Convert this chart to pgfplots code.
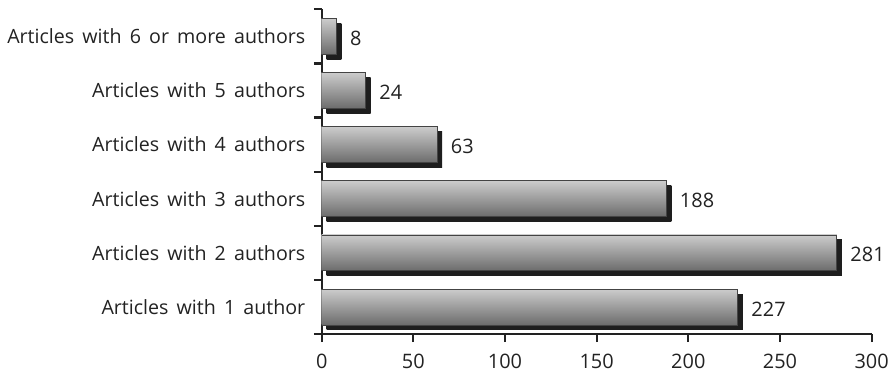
\documentclass[border=0pt]{standalone}
\usepackage{pgfplots}
\pgfplotsset{compat=1.18}
\usepackage{fontspec}
\setmainfont{Open Sans}[WordSpace=1.6]
\usetikzlibrary{shadows}
\definecolor{axc}{HTML}{222222}
\definecolor{barTop}{HTML}{CCCCCC}
\definecolor{barBot}{HTML}{6C6C6C}
\definecolor{barEdge}{HTML}{444444}
\definecolor{shad}{HTML}{1E1E1E}
\pgfplotsset{gbar/.style={draw=barEdge, line width=0.8pt, top color=barTop, bottom color=barBot, bar shift=0pt,
  drop shadow={shadow xshift=5pt, shadow yshift=-5pt, opacity=1, fill=shad, top color=shad, bottom color=shad, draw=none}}}
\begin{document}
\begin{tikzpicture}
\begin{axis}[
  xbar,
  scale only axis,
  width=552pt, height=326pt,
  xmin=0, xmax=300, ymin=-0.5, ymax=5.5,
  axis x line*=bottom, axis y line*=left,
  axis line style={axc, line width=2.2pt, -},
  tick align=outside,
  major tick length=8pt,
  tick style={axc, line width=2.2pt},
  xtick={0,50,...,300},
  ytick={-0.5,0.5,...,5.5},
  yticklabels={},
  extra y ticks={0,1,2,3,4,5},
  extra y tick labels={Articles with 1 author, Articles with 2 authors, Articles with 3 authors, Articles with 4 authors, Articles with 5 authors, Articles with 6 or more authors},
  extra y tick style={major tick length=0pt, tick style={draw=none}},
  /pgf/number format/assume math mode=true,
  tick label style={font=\fontsize{19.7}{22}\selectfont, text=axc},
  yticklabel style={xshift=-13pt},
  xticklabel style={font=\fontsize{20}{22}\selectfont, yshift=-9pt},
  bar width=36pt,
  nodes near coords,
  every node near coord/.append style={font=\fontsize{20}{22}\selectfont, text=axc, xshift=10pt, yshift=-2pt},
]
\addplot[gbar] coordinates {(227,0)};
\addplot[gbar] coordinates {(281,1)};
\addplot[gbar] coordinates {(188,2)};
\addplot[gbar] coordinates {(63,3)};
\addplot[gbar] coordinates {(24,4)};
\addplot[gbar] coordinates {(8,5)};
\end{axis}
\path ([shift={(-4pt,6pt)}]current bounding box.north west) rectangle ([shift={(4pt,-2pt)}]current bounding box.south east);
\end{tikzpicture}
\end{document}
